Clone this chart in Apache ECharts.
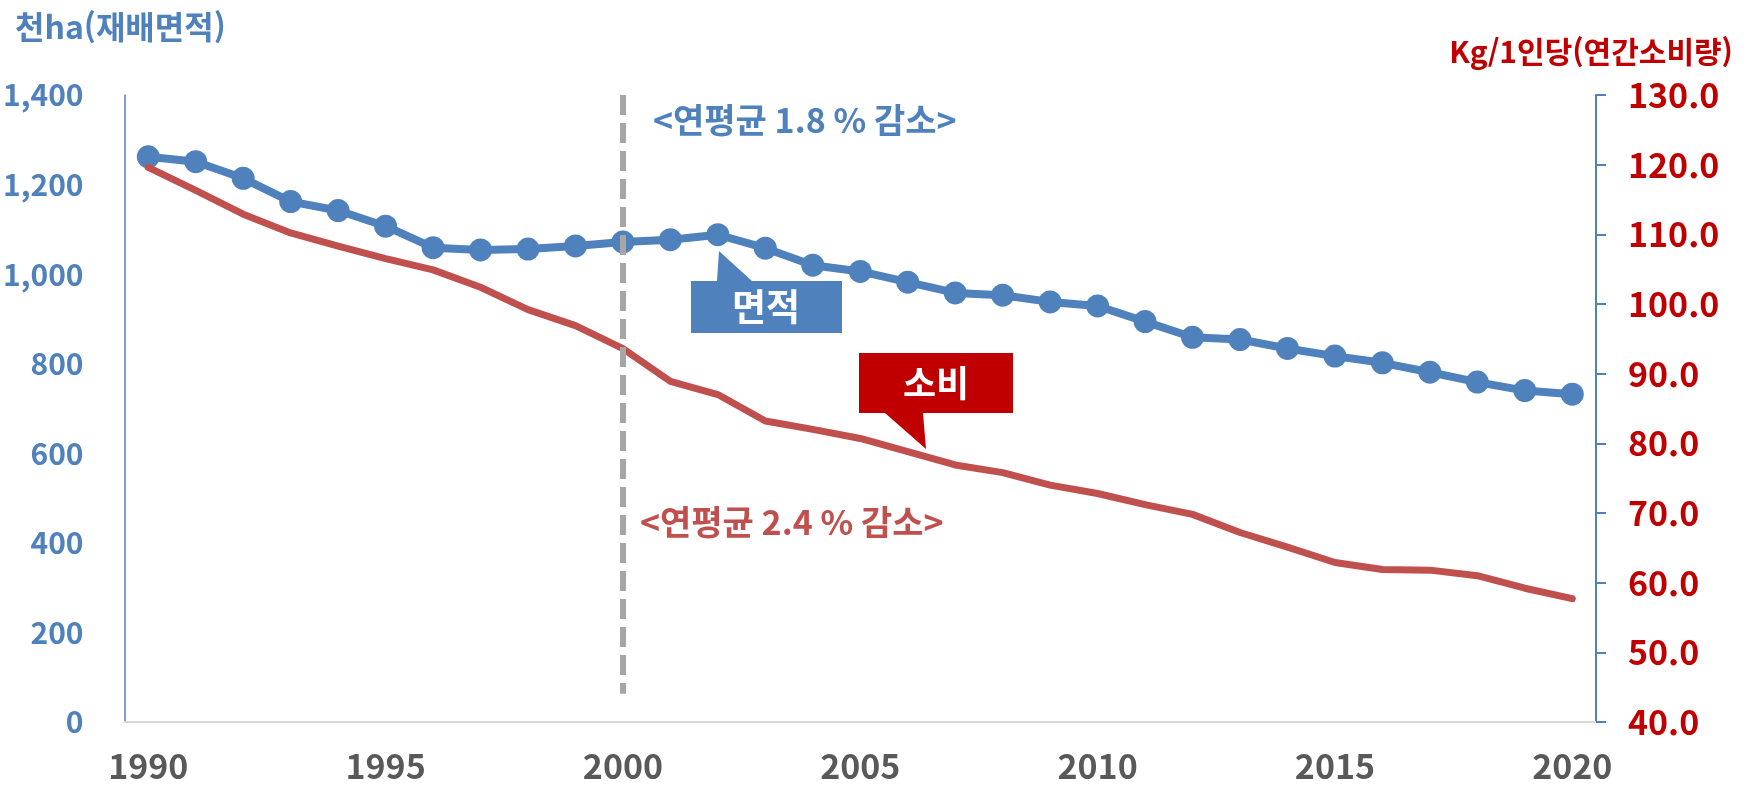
<!DOCTYPE html>
<html lang="ko">
<head>
    <meta charset="UTF-8" />
    <title>쌀 재배면적과 1인당 소비량</title>
    <script src="https://cdn.jsdelivr.net/npm/echarts@6/dist/echarts.min.js"></script>
    <style>
        html, body { margin: 0; padding: 0; background: #fff; }
        #main { width: 1750px; height: 785px; }
    </style>
</head>
<body>
<div id="main"></div>
<script type="text/javascript">
    // 연도
    var years = ['1990','1991','1992','1993','1994','1995','1996','1997','1998','1999',
                 '2000','2001','2002','2003','2004','2005','2006','2007','2008','2009',
                 '2010','2011','2012','2013','2014','2015','2016','2017','2018','2019','2020'];
    // 재배면적 (천ha)
    var area = [1262, 1251, 1214, 1162, 1142, 1107, 1059, 1054, 1056, 1063,
                1072, 1077, 1088, 1058, 1020, 1006, 982, 958, 953, 938,
                929, 894, 859, 854, 834, 817, 802, 781, 759, 740, 732];
    // 1인당 연간 소비량 (kg)
    var consumption = [119.6, 116.3, 112.9, 110.2, 108.3, 106.5, 104.9, 102.4, 99.2, 96.9,
                       93.6, 88.9, 87.0, 83.2, 82.0, 80.7, 78.8, 76.9, 75.8, 74.0,
                       72.8, 71.2, 69.8, 67.2, 65.1, 62.9, 61.9, 61.8, 61.0, 59.2, 57.7];

    var FONT = '"Noto Sans CJK KR", "Noto Sans", sans-serif';
    var BLUE = '#4F81BD', RED = '#C0504D', DARKRED = '#C00000';

    var myChart = echarts.init(document.getElementById('main'));
    var option = {
        backgroundColor: '#fff',
        animation: false,
        title: [
            {
                text: '천ha(재배면적)', left: 15, top: 11, padding: 0,
                textStyle: { color: BLUE, fontSize: 32, fontWeight: 'bold', fontFamily: FONT }
            },
            {
                text: 'Kg/1인당(연간소비량)', right: 16, top: 37, padding: 0,
                textStyle: { color: DARKRED, fontSize: 30, fontWeight: 'bold', fontFamily: FONT }
            }
        ],
        grid: { left: 121, right: 154, top: 95, bottom: 63 },
        xAxis: {
            type: 'category',
            data: years,
            boundaryGap: true,
            axisLine: { lineStyle: { color: '#D9D9D9', width: 2 } },
            axisTick: { show: false },
            axisLabel: {
                interval: 4, margin: 27, color: '#595959',
                fontSize: 34, fontWeight: 'bold', fontFamily: FONT
            },
            splitLine: { show: false }
        },
        yAxis: [
            {
                type: 'value', min: 0, max: 1400, interval: 200,
                axisLine: { show: true, lineStyle: { color: BLUE, width: 1.5 } },
                axisTick: { show: false },
                splitLine: { show: false },
                axisLabel: {
                    margin: 41, color: BLUE, fontSize: 30, fontWeight: 'bold', fontFamily: FONT,
                    formatter: function (v) { return v.toLocaleString('en-US'); }
                }
            },
            {
                type: 'value', min: 40, max: 130, interval: 10, position: 'right',
                axisLine: { show: true, lineStyle: { color: BLUE, width: 2 } },
                axisTick: { show: true, length: 10, lineStyle: { color: BLUE, width: 2 } },
                splitLine: { show: false },
                axisLabel: {
                    margin: 32, color: DARKRED, fontSize: 34, fontWeight: 'bold', fontFamily: FONT,
                    formatter: function (v) { return v.toFixed(1); }
                }
            }
        ],
        series: [
            {
                name: '면적',
                type: 'line',
                yAxisIndex: 0,
                data: area,
                symbol: 'circle',
                symbolSize: 23,
                itemStyle: { color: BLUE },
                lineStyle: { color: BLUE, width: 8, join: 'round', cap: 'round' },
                markLine: {
                    silent: true,
                    symbol: 'none',
                    label: { show: false },
                    lineStyle: { color: '#A6A6A6', width: 6, type: [20, 8] },
                    data: [[{ coord: ['2000', 1400] }, { coord: ['2000', 63] }]]
                },
                z: 2
            },
            {
                name: '소비',
                type: 'line',
                yAxisIndex: 1,
                data: consumption,
                symbol: 'none',
                lineStyle: { color: RED, width: 7, join: 'round', cap: 'round' },
                z: 3
            }
        ],
        graphic: [
            {
                type: 'text', x: 653, y: 120,
                style: { text: '<연평균 1.8 % 감소>', fill: BLUE, fontSize: 34, fontWeight: 'bold', fontFamily: FONT,
                         verticalAlign: 'middle' }
            },
            {
                type: 'text', x: 640, y: 522,
                style: { text: '<연평균 2.4 % 감소>', fill: RED, fontSize: 34, fontWeight: 'bold', fontFamily: FONT,
                         verticalAlign: 'middle' }
            },
            {
                type: 'polygon', z: 10,
                shape: { points: [[691,281],[717,281],[719,251],[752,281],[842,281],[842,333],[691,333]] },
                style: { fill: BLUE }
            },
            {
                type: 'text', z: 11, x: 766, y: 307,
                style: { text: '면적', fill: '#fff', fontSize: 37, fontWeight: 'bold', fontFamily: FONT,
                         align: 'center', verticalAlign: 'middle' }
            },
            {
                type: 'polygon', z: 10,
                shape: { points: [[859,353],[1013,353],[1013,413],[923,413],[926,449],[885,413],[859,413]] },
                style: { fill: DARKRED }
            },
            {
                type: 'text', z: 11, x: 936, y: 383,
                style: { text: '소비', fill: '#fff', fontSize: 36, fontWeight: 'bold', fontFamily: FONT,
                         align: 'center', verticalAlign: 'middle' }
            }
        ]
    };
    myChart.setOption(option);
</script>
</body>
</html>
